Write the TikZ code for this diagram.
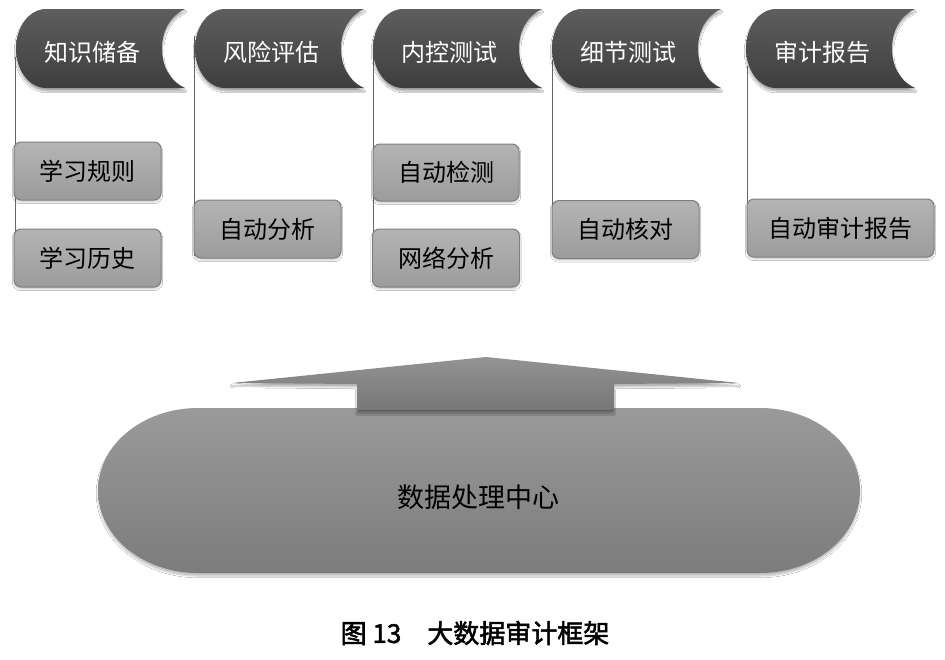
\documentclass[tikz,border=0pt]{standalone}
\usepackage{fontspec}
\newfontfamily\cjk{Noto Sans CJK SC}
\newfontfamily\cjkb{Noto Sans CJK SC}[FakeBold=2]
\usetikzlibrary{shadows.blur}
\definecolor{hdrtop}{HTML}{5E5E5E}
\definecolor{hdrbot}{HTML}{3E3E3E}
\definecolor{boxtop}{HTML}{B4B4B4}
\definecolor{boxbot}{HTML}{9C9C9C}
\definecolor{boxline}{HTML}{7E7E7E}
\definecolor{pilltop}{HTML}{9A9A9A}
\definecolor{pillbot}{HTML}{7C7C7C}
\definecolor{arrtop}{HTML}{939393}
\definecolor{arrbot}{HTML}{767676}
\definecolor{linegray}{HTML}{666666}
\tikzset{
  hdrfill/.style={top color=hdrtop, bottom color=hdrbot,
    blur shadow={shadow xshift=0pt, shadow yshift=-3pt, shadow opacity=35, shadow blur steps=6}},
  hdrtext/.style={text=white, font=\cjk\fontsize{24pt}{28pt}\selectfont, inner sep=0pt},
  subbox/.style={rectangle, rounded corners=7pt, draw=boxline, line width=1pt,
    top color=boxtop, bottom color=boxbot, minimum height=58pt, minimum width=147pt,
    font=\cjk\fontsize{24pt}{28pt}\selectfont, text=black, inner sep=0pt,
    blur shadow={shadow xshift=0pt, shadow yshift=-2pt, shadow opacity=20, shadow blur steps=4}},
  conn/.style={draw=linegray, line width=1pt},
}
\newcommand{\hdr}[3]{%
\begin{scope}[shift={(#1,0)}]
\path[hdrfill] (0,48.5) .. controls (0,26.7) and (13.4,9) .. (30,9) -- (169,9)
  .. controls (153.5,16.1) and (146,31.6) .. (146,48.5)
  .. controls (146,65.4) and (153.5,80.9) .. (169,88) -- (30,88)
  .. controls (13.4,88) and (0,70.3) .. (0,48.5) -- cycle;
\node[hdrtext] (#2) at (76,52) {#3};
\end{scope}}
\begin{document}
\begin{tikzpicture}[x=1pt,y=-1pt]
\useasboundingbox[fill=white] (0,0) rectangle (945,659);
% connector lines
\coordinate (c1s) at (15,57);  \coordinate (c1e) at (15,275);
\coordinate (c2s) at (194,36); \coordinate (c2e) at (194,256);
\coordinate (c3s) at (373,52); \coordinate (c3e) at (373,277);
\coordinate (c4s) at (552,60); \coordinate (c4e) at (552,205);
\coordinate (c5s) at (747,66); \coordinate (c5e) at (747,202);
\draw[conn] (c1s) -- (c1e);
\draw[conn] (c2s) -- (c2e);
\draw[conn] (c3s) -- (c3e);
\draw[conn] (c4s) -- (c4e);
\draw[conn] (c5s) -- (c5e);
% headers
\hdr{16}{h1}{知识储备}
\hdr{195}{h2}{风险评估}
\hdr{373}{h3}{内控测试}
\hdr{552}{h4}{细节测试}
\hdr{746}{h5}{审计报告}
% sub boxes
\node[subbox] (b11) at (87.5,171) {学习规则};
\node[subbox] (b12) at (87.5,258) {学习历史};
\node[subbox] (b21) at (267.5,229) {自动分析};
\node[subbox, minimum width=146pt, minimum height=57pt] (b31) at (446,172.5) {自动检测};
\node[subbox] (b32) at (446,258) {网络分析};
\node[subbox] (b41) at (625.5,229.5) {自动核对};
\node[subbox, minimum width=187pt] (b51) at (840.5,228) {自动审计报告};
% data center pill
\path[top color=pilltop, bottom color=pillbot,
  blur shadow={shadow xshift=0pt, shadow yshift=-3pt, shadow opacity=25, shadow blur steps=6}]
  (198,408) -- (760,408) .. controls (815.2,408) and (860,444.9) .. (860,490.5)
  .. controls (860,536.1) and (815.2,573) .. (760,573) -- (198,573)
  .. controls (142.8,573) and (98,536.1) .. (98,490.5)
  .. controls (98,444.9) and (142.8,408) .. (198,408) -- cycle;
\node[font=\cjk\fontsize{27pt}{32pt}\selectfont, text=black, inner sep=0pt] (center) at (478,497) {数据处理中心};
% up arrow
\path[top color=arrtop, bottom color=arrbot,
  blur shadow={shadow xshift=0pt, shadow yshift=-3pt, shadow opacity=30, shadow blur steps=5}]
  (232,383) -- (486,357) -- (739,383) -- (614,384) -- (614,411) -- (357,411) -- (357,384) -- cycle;
\draw[draw=arrbot!80!black, line width=1pt] (357.5,410.5) -- (613.5,410.5);
% caption
\node[font=\cjkb\fontsize{26pt}{30pt}\selectfont, text=black, inner sep=0pt] (cap) at (475,633) {图 13\hspace{1em}大数据审计框架};
\end{tikzpicture}
\end{document}
